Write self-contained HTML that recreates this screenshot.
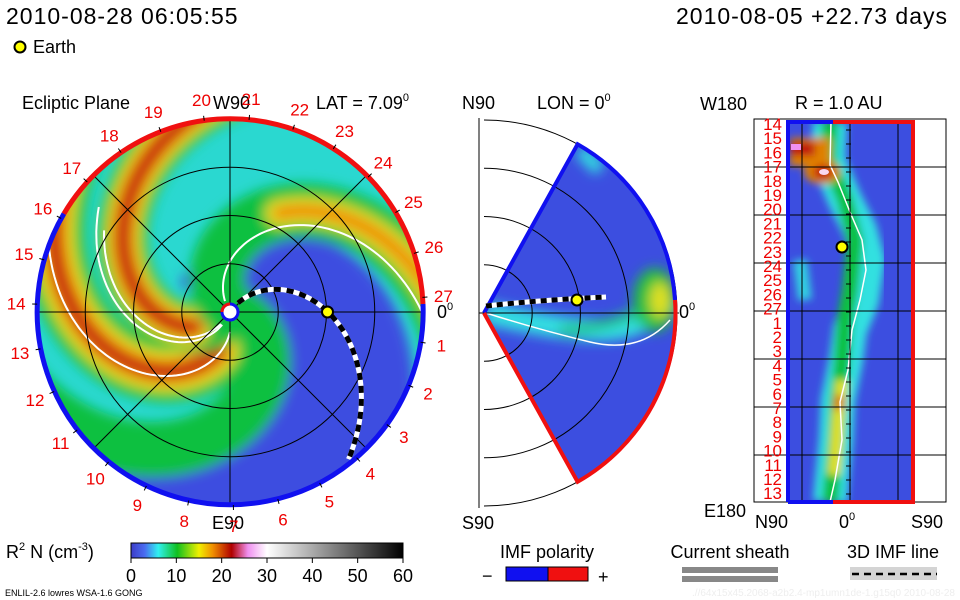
<!DOCTYPE html>
<html><head><meta charset="utf-8">
<style>
html,body{margin:0;padding:0;background:#fff;}
svg{display:block;font-family:"Liberation Sans",sans-serif;}
.t{font-size:18px;fill:#000;}
.r{font-size:17px;fill:#e00;}
</style></head>
<body>
<svg id="root" width="960" height="600" viewBox="0 0 960 600" xmlns="http://www.w3.org/2000/svg">
<defs>
 <filter id="blur" x="-20%" y="-20%" width="140%" height="140%"><feGaussianBlur stdDeviation="6"/></filter>
 <filter id="blur2" x="-20%" y="-20%" width="140%" height="140%"><feGaussianBlur stdDeviation="4"/></filter>
 <clipPath id="diskClip"><circle cx="230" cy="312" r="193"/></clipPath>
 <clipPath id="wedgeClip"><path d="M484,313 L577.6,144.2 A193,193 0 0,1 577.6,481.8 Z"/></clipPath>
 <clipPath id="rectClip"><rect x="788" y="122" width="126" height="380"/></clipPath>
 <linearGradient id="cbar" x1="0" x2="1" y1="0" y2="0">
  <stop offset="0" stop-color="#3c3cc8"/><stop offset="0.05" stop-color="#4a6cf0"/>
  <stop offset="0.1" stop-color="#30f0f0"/><stop offset="0.17" stop-color="#10c020"/>
  <stop offset="0.25" stop-color="#f0f000"/><stop offset="0.3" stop-color="#f09000"/>
  <stop offset="0.37" stop-color="#b00000"/><stop offset="0.43" stop-color="#f090f0"/>
  <stop offset="0.5" stop-color="#ffffff"/><stop offset="1" stop-color="#000000"/>
 </linearGradient>
</defs>

<text class="t" x="6" y="24" style="font-size:23px;letter-spacing:1px">2010-08-28 06:05:55</text>
<text class="t" x="948" y="24" text-anchor="end" style="font-size:23px;letter-spacing:1px">2010-08-05 +22.73 days</text>
<circle cx="20" cy="47" r="5.5" fill="#ff0" stroke="#000" stroke-width="2"/>
<text class="t" x="33" y="53">Earth</text>

<!-- Left panel -->
<text class="t" x="22" y="109">Ecliptic Plane</text>
<text class="t" x="213" y="109">W90</text>
<text class="t" x="316" y="109">LAT = 7.09<tspan dy="-8" font-size="11">0</tspan></text>
<text class="t" x="212" y="529">E90</text>
<text class="t" x="437" y="318">0<tspan dy="-8" font-size="11">0</tspan></text>
<g id="disk" clip-path="url(#diskClip)">
 <circle cx="230" cy="312" r="193" fill="#2ad8d0"/>
 <g id="arms" filter="url(#blur)"></g>
 <g id="whites"></g>
</g>
<g id="leftGrid" fill="none" stroke="#000" stroke-width="1"></g>
<g id="leftLabels"></g>

<!-- Middle panel -->
<text class="t" x="462" y="109">N90</text>
<text class="t" x="537" y="109">LON = 0<tspan dy="-8" font-size="11">0</tspan></text>
<text class="t" x="462" y="529">S90</text>
<text class="t" x="679" y="318">0<tspan dy="-8" font-size="11">0</tspan></text>
<g id="midGrid" fill="none" stroke="#000" stroke-width="1"></g>
<g clip-path="url(#wedgeClip)">
 <rect x="479" y="140" width="200" height="345" fill="#3c4ee0"/>
 <g filter="url(#blur)">
  <path d="M486,313 Q560,330 600,330 T675,300" stroke="#30e0e0" stroke-width="22" fill="none"/>
  <path d="M560,330 Q610,330 660,300" stroke="#20c080" stroke-width="10" fill="none"/>
  <ellipse cx="655" cy="300" rx="22" ry="32" fill="#20c040"/>
  <ellipse cx="660" cy="300" rx="10" ry="18" fill="#e0e020"/>
  <path d="M580,150 L600,170" stroke="#30e0e0" stroke-width="14"/>
 </g>
 <path d="M486,313 Q540,330 590,342 T670,320" stroke="#fff" stroke-width="1.5" fill="none"/>
 <g fill="none" stroke="#000" stroke-width="1" id="midGridIn"></g>
</g>
<path d="M484,313 L577.6,144.2 A193,193 0 0,1 675,300" fill="none" stroke="#1010f0" stroke-width="4"/>
<path d="M675,300 A193,193 0 0,1 577.6,481.8 L484,313" fill="none" stroke="#f01010" stroke-width="4"/>
<path d="M486,306 Q540,300 606,297" stroke="#fff" stroke-width="5" fill="none"/>
<path d="M486,306 Q540,300 606,297" stroke="#000" stroke-width="5" stroke-dasharray="6,5" fill="none"/>
<circle cx="577" cy="300" r="5.5" fill="#ff0" stroke="#000" stroke-width="2"/>

<!-- Right panel -->
<text class="t" x="795" y="109">R = 1.0 AU</text>
<text class="t" x="700" y="110">W180</text>
<text class="t" x="704" y="517">E180</text>
<text class="t" x="755" y="528">N90</text>
<text class="t" x="839" y="528">0<tspan dy="-8" font-size="11">0</tspan></text>
<text class="t" x="911" y="528">S90</text>
<rect x="754" y="119" width="192" height="383" fill="none" stroke="#000"/>
<g clip-path="url(#rectClip)">
 <rect x="786" y="120" width="130" height="385" fill="#3c4ee0"/>
 <g filter="url(#blur2)">
  <path d="M830,122 L828,160 L845,200 L860,230 L868,260 L862,300 L850,330 L846,360 L838,400 L836,440 L832,480 L830,502" stroke="#30e0e0" stroke-width="34" fill="none"/>
  <path d="M830,122 L828,160 L845,200 L855,240 L850,290 L845,320 L842,360 L838,400 L836,440 L832,480 L830,502" stroke="#10c040" stroke-width="16" fill="none"/>
  <path d="M842,380 L838,420 L836,450 L834,475" stroke="#e0e020" stroke-width="12" fill="none"/>
  <path d="M840,395 L838,410" stroke="#e08000" stroke-width="10" fill="none"/>
  <rect x="790" y="138" width="40" height="28" fill="#e08000"/>
  <rect x="790" y="142" width="25" height="14" fill="#c01010"/>
  <ellipse cx="822" cy="172" rx="18" ry="12" fill="#e08000"/>
  <ellipse cx="823" cy="172" rx="10" ry="7" fill="#c01010"/>
  <path d="M800,260 L805,300" stroke="#30d0e0" stroke-width="14"/>
 </g>
 <rect x="791" y="144" width="10" height="6" fill="#f090f0"/>
 <ellipse cx="824" cy="172" rx="5" ry="3" fill="#f8d8f0"/>
 <path d="M831,122 L830,165 L838,182 L850,212 L862,240 L866,270 L860,300 L852,330 L848,370 L840,402 L842,440 L835,480 L830,502" stroke="#fff" stroke-width="1.5" fill="none"/>
</g>
<g id="rightGrid" stroke="#000" stroke-width="1"></g>
<path d="M788,502 L788,122 L833,122" stroke="#1010f0" stroke-width="4" fill="none"/>
<path d="M833,122 L913,122 L913,502 L833,502" stroke="#f01010" stroke-width="4" fill="none"/>
<path d="M788,502 L833,502" stroke="#1010f0" stroke-width="4"/>
<circle cx="842" cy="247" r="5.5" fill="#ff0" stroke="#000" stroke-width="2"/>
<g id="rightLabels"></g>

<!-- Colorbar & legends -->
<text class="t" x="6" y="558">R<tspan dy="-8" font-size="11">2</tspan><tspan dy="8"> N (cm</tspan><tspan dy="-8" font-size="11">-3</tspan><tspan dy="8">)</tspan></text>
<rect x="131" y="543" width="272" height="15" fill="url(#cbar)" stroke="#000" stroke-width="1"/>
<g id="cbarTicks"></g>
<text class="t" x="547" y="558" text-anchor="middle">IMF polarity</text>
<text class="t" x="482" y="582">−</text>
<rect x="506" y="567" width="42" height="14" fill="#1010f0" stroke="#000"/>
<rect x="548" y="567" width="40" height="14" fill="#f01010" stroke="#000"/>
<text class="t" x="598" y="583">+</text>
<text class="t" x="730" y="558" text-anchor="middle">Current sheath</text>
<rect x="682" y="567" width="96" height="6" fill="#888"/>
<rect x="682" y="576" width="96" height="6" fill="#888"/>
<text class="t" x="893" y="558" text-anchor="middle">3D IMF line</text>
<rect x="850" y="567" width="87" height="13" fill="#d4d4d4"/>
<line x1="852" y1="574" x2="937" y2="574" stroke="#000" stroke-width="2.5" stroke-dasharray="7,5"/>
<text x="5" y="596" font-size="9" fill="#000">ENLIL-2.6 lowres WSA-1.6 GONG</text>
<text x="955" y="596" font-size="10" fill="#eee" text-anchor="end">.//64x15x45.2068-a2b2.4-mp1umn1de-1.g15q0   2010-08-28</text>
</svg>
<script>
// ---- data ----
const cbarTickValues=[0,10,20,30,40,50,60];
const cbarMax=60;
const carringtonLabels=[1,2,3,4,5,6,7,8,9,10,11,12,13,14,15,16,17,18,19,20,21,22,23,24,25,26,27];
const rightLabels=[14,15,16,17,18,19,20,21,22,23,24,25,26,27,1,2,3,4,5,6,7,8,9,10,11,12,13];
const gridRadiiAU=[0.25,0.5,0.75,1.0];
const earthAU=0.5;
const armTheta0=[0.33,1.42,2.3,3.95];
const NS='http://www.w3.org/2000/svg';
const cx=230,cy=312,R=193,K=90;
function el(tag,attrs,parent){const e=document.createElementNS(NS,tag);for(const k in attrs)e.setAttribute(k,attrs[k]);parent.appendChild(e);return e;}
function spiral(t0,r0,r1,k){k=k||K;let d='';for(let r=r0;r<=r1;r+=3){const th=t0+r/k;const x=cx+r*Math.cos(th),y=cy+r*Math.sin(th);d+=(d?'L':'M')+x.toFixed(1)+','+y.toFixed(1);}return d;}
const arms=document.getElementById('arms');
let p=el('path',{d:spiral(-1.1,0,260),stroke:'#3c4ee0','stroke-width':115,fill:'none'},arms);


el('path',{d:spiral(-0.3,30,260),stroke:'#3c4ee0','stroke-width':60,fill:'none'},arms);
const armStyles=[
 [['#10c040',55]],
 [['#10c040',62],['#e0e020',42],['#f08000',26],['#c01010',12]],
 [['#10c040',50],['#e0e020',36],['#f08000',24],['#c01010',12]],
 [['#10c040',55],['#e0e020',28],['#f08000',12]]
];
armTheta0.forEach((t0,i)=>{
 armStyles[i].forEach(([c,w],j)=>{
  const r0=j==0?10:(i==3?110:40);
  const a=el('path',{d:spiral(t0,r0,260),stroke:c,'stroke-width':w,fill:'none','stroke-linecap':'round'},arms);
  
  
 });
});
const wh=document.getElementById('whites');
[[1.35,20,195],[1.95,15,170],[2.05,15,150],[4.15,12,200]].forEach(([t0,a,b])=>{
 const w=el('path',{d:spiral(t0,a,b),stroke:'#fff','stroke-width':2,fill:'none'},wh);
 
 
});
const lg=document.getElementById('leftGrid');
gridRadiiAU.forEach(a=>{const c=el('circle',{cx:cx,cy:cy,r:a*R},lg);});
for(let k=0;k<4;k++){const th=k*Math.PI/4;el('line',{x1:cx-R*Math.cos(th),y1:cy-R*Math.sin(th),x2:cx+R*Math.cos(th),y2:cy+R*Math.sin(th)},lg);}
const dd=spiral(-0.96,12,190,102);
let im=el('path',{d:dd,stroke:'#fff','stroke-width':5,fill:'none'},lg);


el('path',{d:dd,stroke:'#000','stroke-width':5,fill:'none','stroke-dasharray':'7,6'},lg);
el('circle',{cx:cx,cy:cy,r:8,fill:'#fff',stroke:'#1010f0','stroke-width':3},lg);
el('path',{d:`M${cx-8},${cy} A8,8 0 0,1 ${cx},${cy-8}`,stroke:'#f01010','stroke-width':3},lg);
const eg=el('circle',{cx:cx+earthAU*R+1,cy:cy,r:5.5,fill:'#ff0',stroke:'#000','stroke-width':2},lg);


const rimR=el('path',{d:`M${cx+R*Math.cos(Math.PI*1.17)},${cy+R*Math.sin(Math.PI*1.17)} A${R},${R} 0 0,1 ${cx+R},${cy-8}`,stroke:'#f01010','stroke-width':5,fill:'none'},lg);


const rimB=el('path',{d:`M${cx+R},${cy-8} A${R},${R} 0 1,1 ${cx+R*Math.cos(Math.PI*1.17)},${cy+R*Math.sin(Math.PI*1.17)}`,stroke:'#1010f0','stroke-width':5,fill:'none'},lg);


const ll=document.getElementById('leftLabels');
carringtonLabels.forEach((n,i)=>{
 const th=(9+i*360/27)*Math.PI/180;
 const x=cx+214*Math.cos(th),y=cy+214*Math.sin(th)+6;
 const t=el('text',{x:x,y:y,class:'r','text-anchor':'middle'},ll);t.textContent=n;
 
 
 el('line',{x1:cx+R*Math.cos(th),y1:cy+R*Math.sin(th),x2:cx+(R+5)*Math.cos(th),y2:cy+(R+5)*Math.sin(th),stroke:'#000'},ll);
});
const mg=document.getElementById('midGrid'), mgi=document.getElementById('midGridIn');
[mg,mgi].forEach(g=>{
 gridRadiiAU.forEach(a=>{const r=a*R;el('path',{d:`M484,${313-r} A${r},${r} 0 0,1 484,${313+r}`},g);});
 el('line',{x1:479,y1:313,x2:679,y2:313},g);
});
el('line',{x1:479,y1:118,x2:479,y2:508},mg);
const rg=document.getElementById('rightGrid');
[167,215,263,311,359,407,455].forEach(y=>el('line',{x1:754,y1:y,x2:946,y2:y},rg));
[802,850,898].forEach(x=>el('line',{x1:x,y1:122,x2:x,y2:502},rg));
for(let y=130;y<500;y+=14)el('line',{x1:846,y1:y,x2:851,y2:y},rg);
const rl=document.getElementById('rightLabels');
rightLabels.forEach((n,i)=>{
 const t=el('text',{x:782,y:130+i*14.2,class:'r','text-anchor':'end'},rl);t.textContent=n;
 
 
});
const ct=document.getElementById('cbarTicks');
cbarTickValues.forEach(v=>{
 const x=131+272*v/cbarMax;
 el('line',{x1:x,y1:558,x2:x,y2:563,stroke:'#000'},ct);
 const t=el('text',{x:x,y:582,class:'t','text-anchor':'middle'},ct);t.textContent=v;
 
 
});
</script>
</body></html>
